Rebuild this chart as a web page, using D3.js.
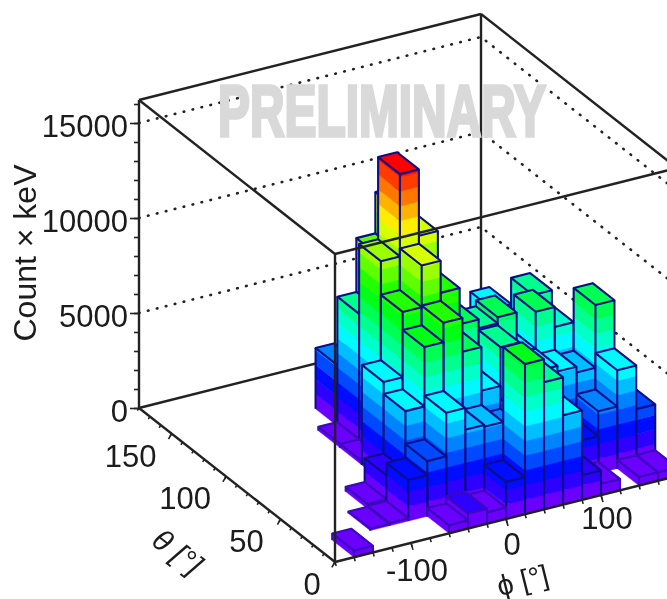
<!DOCTYPE html>
<html>
<head>
<meta charset="utf-8">
<script src="https://cdn.jsdelivr.net/npm/d3@7"></script>
<style>
  body { margin: 0; background: #fff; }
  text { font-family: 'Liberation Sans', Arial, sans-serif; fill: #1a1a1a; }
</style>
</head>
<body>
<div id="graph"></div>
<script>
// The data... one array per theta bin, phi runs left to right
const phiEdges   = d3.range (-180, 181, 20);
const thetaEdges = d3.range (0, 181, 20);

const countsTheta10  = [ 0, 350, 0, 0, 0, 0, 430, 790, 600, 1950, 7900, 6700, 4700, 1300, 600, 0, 450, 450 ];
const countsTheta30  = [ 0, 0, 0, 100, 150, 2160, 2900, 5190, 4050, 3950, 3500, 4000, 4000, 3500, 1950, 3260, 5170, 2870 ];
const countsTheta50  = [ 0, 0, 0, 0, 250, 1500, 4630, 7750, 8780, 7000, 4700, 6740, 5000, 5000, 4700, 4400, 7700, 1500 ];
const countsTheta70  = [ 0, 0, 0, 0, 0, 0, 5260, 8700, 10890, 9200, 7300, 6840, 7160, 5000, 6950, 5900, 3000, 0 ];
const countsTheta90  = [ 0, 0, 0, 0, 0, 0, 200, 10470, 14800, 11300, 6000, 5000, 5000, 4500, 4000, 6680, 0, 0 ];
const countsTheta110 = [ 0, 0, 0, 0, 0, 0, 200, 6800, 9630, 11800, 6000, 0, 0, 0, 5300, 0, 0, 0 ];
const countsTheta130 = [ 0, 0, 0, 0, 0, 0, 0, 3200, 3000, 0, 0, 0, 0, 0, 0, 0, 0, 0 ];
const countsTheta150 = [ 0, 0, 0, 0, 0, 0, 0, 0, 0, 0, 0, 0, 0, 0, 0, 0, 0, 0 ];
const countsTheta170 = [ 0, 0, 0, 0, 0, 0, 0, 0, 0, 0, 0, 0, 0, 0, 0, 0, 0, 0 ];

const counts = [ countsTheta10, countsTheta30, countsTheta50, countsTheta70, countsTheta90,
                 countsTheta110, countsTheta130, countsTheta150, countsTheta170 ];

const zTicks      = [ 0, 5000, 10000, 15000 ];
const zMinorTicks = d3.range (0, 16001, 1000);
const zGridTicks  = [ 5000, 10000, 15000 ];
const phiTicks      = [ -100, 0, 100 ];
const phiMinorTicks = d3.range (-180, 181, 20);
const thetaTicks      = [ 0, 50, 100, 150 ];
const thetaMinorTicks = d3.range (0, 181, 10);

const zMax      = 16210;
const zPalette  = 15430;   // top of the colour scale
const nLevels   = 20;

const width  = 667;
const height = 599;

// Front corner of the floor, everything hangs off this
const origin = { x: 335, y: 562 };

const xPhi   = d3.scaleLinear ().domain ([ -180, 180 ]).range ([ 0, 342 ]);
const yPhi   = d3.scaleLinear ().domain ([ -180, 180 ]).range ([ 0, -86 ]);
const xTheta = d3.scaleLinear ().domain ([ 0, 180 ]).range ([ 0, -196 ]);
const yTheta = d3.scaleLinear ().domain ([ 0, 180 ]).range ([ 0, -154 ]);
const zScale = d3.scaleLinear ().domain ([ 0, 5000 ]).range ([ 0, -95 ]);

function project (phi, theta, z)
{
    return [ origin.x + xPhi (phi) + xTheta (theta),
             origin.y + yPhi (phi) + yTheta (theta) + zScale (z) ];
}

function levelColour (k)
{
    return d3.hsl (265 * (1 - k / (nLevels - 1)), 1, 0.5).formatHex ();
}

const poly = d3.line ();
const levelStep = zPalette / nLevels;

const svg = d3.select ('#graph').append ('svg')
              .attr ('width', width)
              .attr ('height', height)
              .style ('display', 'block');

const defs = svg.append ('defs');
defs.append ('filter').attr ('id', 'soft')
    .attr ('filterUnits', 'userSpaceOnUse')
    .attr ('x', 0).attr ('y', 0)
    .attr ('width', width).attr ('height', height)
    .append ('feGaussianBlur').attr ('stdDeviation', 0.55);

const root = svg.append ('g').attr ('filter', 'url(#soft)');

root.append ('rect').attr ('width', width).attr ('height', height).attr ('fill', '#fff');

const PHI0 = -180, PHI1 = 180, TH0 = 0, TH1 = 180;

//
// Back walls: dotted grid and the lines behind the bars
//
const backG = root.append ('g');

zGridTicks.forEach (function (z)
{
    backG.append ('path')
         .attr ('d', poly ([ project (PHI0, TH1, z), project (PHI1, TH1, z), project (PHI1, TH0, z) ]))
         .attr ('fill', 'none')
         .attr ('stroke', '#222')
         .attr ('stroke-width', 2.6)
         .attr ('stroke-linecap', 'round')
         .attr ('stroke-dasharray', '0.6 8.6');
});

const backLines = [
    [ project (PHI0, TH1, 0),    project (PHI1, TH1, 0) ],
    [ project (PHI1, TH1, 0),    project (PHI1, TH0, 0) ],
    [ project (PHI1, TH1, 0),    project (PHI1, TH1, zMax) ],
    [ project (PHI0, TH1, zMax), project (PHI1, TH1, zMax) ],
    [ project (PHI1, TH1, zMax), project (PHI1, TH0, zMax) ],
    [ project (PHI0, TH1, 0),    project (PHI0, TH1, zMax) ],
    [ project (PHI0, TH1, zMax), project (PHI0, TH0, zMax) ],
    [ project (PHI0, TH1, 0),    project (PHI0, TH0, 0) ]
];

backG.selectAll ('path.frame')
     .data (backLines)
     .join ('path')
     .attr ('class', 'frame')
     .attr ('d', poly)
     .attr ('fill', 'none')
     .attr ('stroke', '#222')
     .attr ('stroke-width', 2.4);

//
// The bars, far ones first
//
var bars = [];
for (var j = counts.length - 1; j >= 0; j--)
    for (var i = counts[j].length - 1; i >= 0; i--)
        if (counts[j][i] > 0)
            bars.push ({ i: i, j: j, z: counts[j][i] });

const barsG = root.append ('g');
const edgeWidth = 2.1;

bars.forEach (function (b)
{
    const g  = barsG.append ('g');
    const p0 = phiEdges[b.i],   p1 = phiEdges[b.i + 1];
    const t0 = thetaEdges[b.j], t1 = thetaEdges[b.j + 1];

    const topLevel = Math.min (Math.floor (b.z / levelStep), nLevels - 1);

    // the very low bars barely show an outline in the original
    const edgeColour = b.z < 1000 ? '#3a08b8' : '#0a1088';

    // Colour bands up both side faces
    for (var k = 0; k <= topLevel; k++)
    {
        const zLo = k * levelStep;
        const zHi = Math.min ((k + 1) * levelStep, b.z);
        const col = levelColour (k);

        [ [ [ p0, t1 ], [ p0, t0 ] ], [ [ p0, t0 ], [ p1, t0 ] ] ].forEach (function (e)
        {
            g.append ('path')
             .attr ('d', poly ([ project (e[0][0], e[0][1], zLo), project (e[1][0], e[1][1], zLo),
                                 project (e[1][0], e[1][1], zHi), project (e[0][0], e[0][1], zHi) ]) + 'Z')
             .attr ('fill', col)
             .attr ('stroke', col)
             .attr ('stroke-width', 0.5);
        });
    }

    // Lid
    g.append ('path')
     .attr ('d', poly ([ project (p0, t0, b.z), project (p1, t0, b.z),
                         project (p1, t1, b.z), project (p0, t1, b.z) ]) + 'Z')
     .attr ('fill', levelColour (topLevel))
     .attr ('stroke', edgeColour)
     .attr ('stroke-width', edgeWidth)
     .attr ('stroke-linejoin', 'round');

    // Vertical edges
    [ [ p0, t1 ], [ p0, t0 ], [ p1, t0 ] ].forEach (function (c)
    {
        g.append ('path')
         .attr ('d', poly ([ project (c[0], c[1], 0), project (c[0], c[1], b.z) ]))
         .attr ('stroke', edgeColour)
         .attr ('stroke-width', edgeWidth);
    });
});

//
// Front of the box, sits over the bars
//
const frontLines = [
    [ project (PHI0, TH0, 0),    project (PHI0, TH0, zMax) ],
    [ project (PHI0, TH0, zMax), project (PHI1, TH0, zMax) ],
    [ project (PHI0, TH0, 0),    project (PHI1, TH0, 0) ]
];

const frontG = root.append ('g');

frontG.selectAll ('path')
      .data (frontLines)
      .join ('path')
      .attr ('d', poly)
      .attr ('fill', 'none')
      .attr ('stroke', '#222')
      .attr ('stroke-width', 2.4);

//
// z axis, through d3 and moved onto the left corner
//
const zAxisScale = d3.scaleLinear ().domain ([ 0, zMax ])
                     .range ([ project (PHI0, TH1, 0)[1], project (PHI0, TH1, zMax)[1] ]);
const zCornerX = project (PHI0, TH1, 0)[0];

root.append ('g')
    .attr ('transform', 'translate(' + zCornerX + ',0)')
    .call (d3.axisLeft (zAxisScale).tickValues (zMinorTicks).tickSize (5).tickFormat (''))
    .call (function (g) { g.select ('.domain').remove (); g.selectAll ('line').attr ('stroke', '#222').attr ('stroke-width', 1.6); });

root.append ('g')
    .attr ('transform', 'translate(' + zCornerX + ',0)')
    .call (d3.axisLeft (zAxisScale).tickValues (zTicks).tickSize (9).tickPadding (2).tickFormat (d3.format ('d')))
    .call (function (g)
    {
        g.select ('.domain').remove ();
        g.selectAll ('line').attr ('stroke', '#222').attr ('stroke-width', 1.6);
        g.selectAll ('text').attr ('font-size', 31).attr ('dy', '0.44em')
         .style ('font-family', "'Liberation Sans', Arial, sans-serif");
    });

root.append ('text')
    .attr ('transform', 'translate(36,253) rotate(-90)')
    .attr ('text-anchor', 'middle')
    .attr ('font-size', 32)
    .text ('Count \u00d7 keV');

//
// phi and theta ticks along the floor
//
function floorTicks (values, pos, dx, dy)
{
    frontG.append ('g').selectAll ('line')
          .data (values)
          .join ('line')
          .attr ('x1', function (d) { return pos (d)[0]; })
          .attr ('y1', function (d) { return pos (d)[1]; })
          .attr ('x2', function (d) { return pos (d)[0] + dx; })
          .attr ('y2', function (d) { return pos (d)[1] + dy; })
          .attr ('stroke', '#222')
          .attr ('stroke-width', 1.6);
}

const phiPos   = function (d) { return project (d, TH0, 0); };
const thetaPos = function (d) { return project (PHI0, d, 0); };

floorTicks (phiMinorTicks, phiPos, 1.2, 4);
floorTicks (phiTicks, phiPos, 2, 7);
floorTicks (thetaMinorTicks, thetaPos, -1.6, 2.6);
floorTicks (thetaTicks, thetaPos, -3.2, 5.4);

// The labels drift a little from the axis in the original, so the offsets follow the value
const phiLabelDy   = d3.scaleLinear ().domain ([ -100, 100 ]).range ([ 38, 34 ]);
const thetaLabelDx = d3.scaleLinear ().domain ([ 0, 50, 100, 150 ]).range ([ -23, -34, -41, -41 ]);

root.append ('g').selectAll ('text')
    .data (phiTicks)
    .join ('text')
    .attr ('x', function (d) { return phiPos (d)[0] + 6; })
    .attr ('y', function (d) { return phiPos (d)[1] + phiLabelDy (d); })
    .attr ('text-anchor', 'middle')
    .attr ('font-size', 31)
    .text (function (d) { return d; });

root.append ('g').selectAll ('text')
    .data (thetaTicks)
    .join ('text')
    .attr ('x', function (d) { return thetaPos (d)[0] + thetaLabelDx (d); })
    .attr ('y', function (d) { return thetaPos (d)[1] + 33; })
    .attr ('text-anchor', 'middle')
    .attr ('font-size', 31)
    .text (function (d) { return d; });

// Axis titles
root.append ('text')
    .attr ('transform', 'translate(525,590) rotate(-14)')
    .attr ('text-anchor', 'middle')
    .attr ('font-size', 29)
    .text ('\u03d5 [\u00b0]');

root.append ('text')
    .attr ('transform', 'translate(171,560) rotate(38)')
    .attr ('text-anchor', 'middle')
    .attr ('font-size', 30)
    .attr ('font-style', 'italic')
    .text ('\u03b8 [\u00b0]');

// Watermark over the box, squeezed to the width of the original
const mark = root.append ('text')
    .attr ('font-size', 72)
    .attr ('font-weight', 'bold')
    .style ('fill', '#d9d9d9')
    .attr ('stroke', '#d9d9d9')
    .attr ('stroke-width', 3.5)
    .text ('PRELIMINARY');

mark.attr ('transform', 'translate(218,135.5) scale(' + (328 / mark.node ().getComputedTextLength ()) + ',1)');
</script>
</body>
</html>
